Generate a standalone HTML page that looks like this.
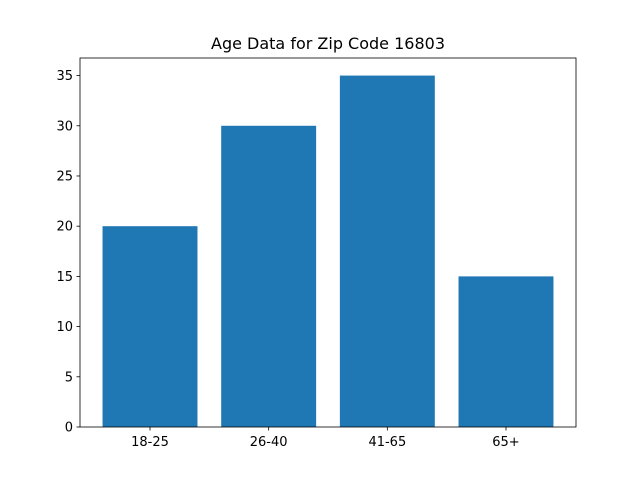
<!DOCTYPE html>
<html><head><meta charset="utf-8"><style>
body{margin:0;background:#fff;}
svg{display:block;font-family:"DejaVu Sans","Liberation Sans",sans-serif;}
</style></head><body>
<svg id="chart" width="640" height="480">
<rect width="640" height="480" fill="#fff"/>
<text x="328" y="49" text-anchor="middle" font-size="16">Age Data for Zip Code 16803</text>
<g id="bars"></g>
<g id="axes"></g>
</svg>
<script>
const categories = ["18-25", "26-40", "41-65", "65+"];
const values = [20, 30, 35, 15];
const yTicks = [0, 5, 10, 15, 20, 25, 30, 35];

const L = 80, R = 576, T = 58, B = 427;
const ymax = Math.max(...values) * 1.05;
const xmin = -0.59, xmax = categories.length - 1 + 0.59;
const xs = v => L + (v - xmin) / (xmax - xmin) * (R - L);
const ys = v => B - v / ymax * (B - T);
const NS = "http://www.w3.org/2000/svg";
const bars = document.getElementById("bars");
const axes = document.getElementById("axes");
function mk(tag, attrs, parent) {
  const e = document.createElementNS(NS, tag);
  for (const k in attrs) e.setAttribute(k, attrs[k]);
  parent.appendChild(e);
  return e;
}
values.forEach((v, i) => {
  const r = mk("rect", {x: xs(i - 0.4), y: ys(v), width: xs(i + 0.4) - xs(i - 0.4), height: ys(0) - ys(v), fill: "#1f77b4"}, bars);
  
  
  const t = mk("line", {x1: xs(i), x2: xs(i), y1: B, y2: B + 3.5, stroke: "#000", "stroke-width": 0.8}, axes);
  
  
  const lb = mk("text", {x: xs(i), y: B + 19, "text-anchor": "middle", "font-size": 13}, axes);
  lb.textContent = categories[i];
  
  
});
yTicks.forEach(v => {
  const t = mk("line", {x1: L - 3.5, x2: L, y1: ys(v), y2: ys(v), stroke: "#000", "stroke-width": 0.8}, axes);
  
  
  const lb = mk("text", {x: L - 7, y: ys(v) + 4.5, "text-anchor": "end", "font-size": 13}, axes);
  lb.textContent = v;
  
  
});
const fr = mk("rect", {x: L, y: T, width: R - L, height: B - T, fill: "none", stroke: "#000", "stroke-width": 0.8}, axes);


</script>
</body></html>
